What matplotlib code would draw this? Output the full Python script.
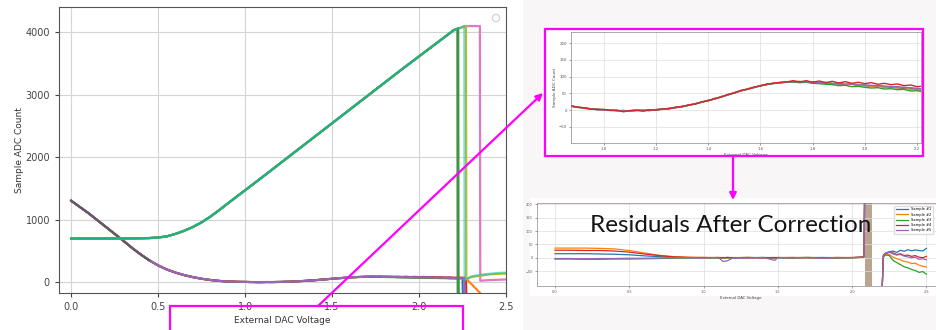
import matplotlib
matplotlib.use('Agg')
import matplotlib.pyplot as plt
from matplotlib.patches import Rectangle, FancyArrowPatch
import numpy as np

W, H = 936, 330

# ---------------- main chart data ----------------
# rising ramp shared by the "high" channels (V, ADC count)
ramp_v = [0.0, 0.1, 0.2, 0.3, 0.4, 0.45, 0.5, 0.55, 0.6, 0.65, 0.7, 0.75, 0.8, 0.85, 0.9,
          0.95, 1.0, 1.1, 1.2, 1.3, 1.4, 1.5, 1.6, 1.7, 1.8, 1.9, 2.0, 2.1, 2.2]
ramp_adc = [695, 695, 696, 697, 699, 703, 712, 730, 770, 820, 880, 955, 1045, 1148, 1256,
            1362, 1468, 1680, 1895, 2110, 2325, 2540, 2755, 2970, 3185, 3400, 3610, 3820, 4030]

# saturation and drop of each high channel
pink_tail_v = [2.265, 2.35, 2.352, 2.4, 2.45, 2.5]
pink_tail = [4095, 4095, 20, 30, 35, 40]
gray_tail_v = [2.22, 2.222]
gray_tail = [4040, -200]
olive_tail_v = [2.27, 2.272, 2.3, 2.35, 2.4, 2.45, 2.5]
olive_tail = [4095, 40, 80, 100, 120, 130, 135]
green_hi_tail_v = [2.225, 2.227]
green_hi_tail = [4060, -200]
cyan_tail_v = [2.26, 2.262, 2.3, 2.35, 2.4, 2.45, 2.5]
cyan_tail = [4095, 30, 90, 115, 130, 145, 150]

# falling curve shared by the "low" channels, 0 - 0.85 V
head_v = [0.0, 0.05, 0.1, 0.15, 0.2, 0.25, 0.3, 0.35, 0.4, 0.45, 0.5, 0.55, 0.6,
          0.65, 0.7, 0.75, 0.8, 0.85]
head_adc = [1300, 1200, 1100, 990, 880, 770, 660, 545, 440, 345, 265, 200, 150,
            110, 78, 52, 32, 18]

# low channels between 0.875 V and 2.225 V (also shown in the zoom panel)
zoom_v = np.linspace(0.875, 2.225, 55)
zoom_blue = [11, 9, 7, 4, 1, 2, -1, -1, -3, -2, 0, -1, -1, 2, 3, 4, 8, 10, 15, 18,
             24, 29, 33, 40, 45, 52, 57, 63, 67, 73, 76, 80, 81, 84, 84, 85, 83, 84, 81, 81,
             79, 78, 76, 77, 74, 73, 71, 72, 69, 68, 67, 64, 65, 61, 60]
zoom_orange = [11, 10, 5, 4, 3, 0, 1, -2, -1, -3, -1, 0, -2, 2, 2, 6, 7, 12, 14, 20,
               23, 30, 33, 41, 45, 53, 57, 64, 67, 74, 76, 81, 81, 85, 84, 86, 83, 85, 81, 83,
               78, 80, 76, 78, 73, 75, 71, 73, 68, 70, 66, 67, 62, 63, 58]
zoom_green = [12, 9, 6, 3, 3, 1, 0, -2, -1, -3, -1, -2, 1, 0, 3, 5, 7, 11, 14, 19,
              24, 28, 34, 39, 46, 51, 58, 62, 68, 72, 77, 79, 82, 83, 84, 82, 83, 80, 79, 77,
              76, 73, 74, 70, 71, 68, 66, 67, 63, 64, 61, 62, 57, 58, 54]
zoom_red = [13, 8, 7, 3, 2, 2, -1, 0, -5, -1, 0, -3, 1, 0, 4, 4, 9, 10, 16, 18,
            25, 28, 35, 39, 47, 51, 59, 62, 69, 72, 78, 80, 83, 84, 88, 84, 88, 83, 87, 82,
            86, 81, 85, 80, 83, 79, 82, 77, 80, 76, 78, 73, 75, 70, 72]
zoom_purple = [12, 9, 6, 4, 2, 1, 0, -1, -2, -2, -1, 0, 0, 1, 3, 5, 8, 11, 15, 19,
               24, 29, 34, 40, 46, 52, 58, 63, 68, 73, 77, 80, 82, 84, 85, 85, 84, 84, 82, 82,
               80, 80, 78, 78, 76, 75, 74, 73, 72, 70, 70, 68, 67, 65, 63]

# drop of each low channel after 2.225 V
blue_tail_v = [2.25, 2.252]
blue_tail = [60, -200]
orange_tail_v = [2.27, 2.36]
orange_tail = [55, -200]
green_tail_v = [2.227]
green_tail = [-200]
red_tail_v = [2.27, 2.272]
red_tail = [68, -200]
purple_tail_v = [2.26, 2.262]
purple_tail = [62, -200]

# ---------------- residual chart data ----------------
res_v = [0.0, 0.1, 0.2, 0.3, 0.4, 0.5, 0.6, 0.7, 0.8, 0.9, 1.0, 1.1, 1.13, 1.16,
         1.2, 1.3, 1.4, 1.48, 1.5, 1.6, 1.7, 1.8, 1.9, 2.0, 2.05, 2.08, 2.085]
res_blue = [15, 15, 15, 14, 13, 11, 7, 4, 2, 0, 1, 0, 0, 1, -1, 0, 1, 0, 0, -1, 0, 1, 0, 0, 1, 3, 300]
res_orange = [36, 36, 36, 35, 33, 27, 18, 9, 4, 2, 1, 0, 1, 0, 1, -1, 0, 1, 0, 1, -1, 0, 1, 0, 2, 5, 300]
res_green = [-5, -5, -6, -6, -5, -5, -4, -3, -2, -1, 0, -1, 0, -1, 0, 1, 0, -1, 0, 0, 1, 0, -1, 0, 1, 2, 300]
res_red = [28, 28, 27, 27, 25, 21, 14, 8, 3, 1, 0, 1, -1, 1, 0, 1, -1, 0, 1, 0, 1, -1, 0, 1, 2, 4, 300]
res_purple = [-3, -3, -4, -3, -3, -2, -2, -1, 0, 0, -1, 1, -14, -12, 0, -1, 1, -10, 0, 1, 0, -1, 1, 0, 1, 3, 300]

res_tail_v = [2.2, 2.21, 2.225, 2.25, 2.275, 2.3, 2.325, 2.35, 2.375, 2.4, 2.425, 2.45, 2.475, 2.5]
res_tail_blue = [-150, 10, 18, 22, 25, 20, 28, 24, 30, 26, 29, 27, 25, 35]
res_tail_orange = [-150, 6, 14, 12, 2, -4, -8, -14, -16, -22, -20, -28, -32, -35]
res_tail_green = [-150, 2, 10, 8, -10, -18, -26, -34, -38, -44, -48, -55, -52, -62]
res_tail_red = [-150, 8, 15, 20, 18, 12, 15, 8, 10, 5, 8, 2, 0, 5]
res_tail_purple = [-150, 5, 16, 22, 14, 10, 12, 6, 3, 0, 2, -6, -4, -8]
sample_labels = ['Sample #1', 'Sample #2', 'Sample #3', 'Sample #4', 'Sample #5']

# --------------------------------------------------
def fx(x):
    return x / W

def fy(y):
    return 1 - y / H

def box(x0, y0, x1, y1):
    return [fx(x0), fy(y1), (x1 - x0) / W, (y1 - y0) / H]


fig = plt.figure(figsize=(W / 100, H / 100), dpi=100, facecolor='#f8f6f7')

# pasted screenshot backgrounds
for b in [(0, 0, 523, 330), (530, 198, 936, 296), (546, 30, 922, 155)]:
    fig.patches.append(Rectangle((fx(b[0]), fy(b[3])), (b[2] - b[0]) / W, (b[3] - b[1]) / H,
                                 transform=fig.transFigure, facecolor='white',
                                 edgecolor='none', zorder=-5))

# ---------------- main chart ----------------
ax = fig.add_axes(box(59, 7, 506, 293))
low = [(zoom_blue, blue_tail_v, blue_tail, '#1f77b4'),
       (zoom_orange, orange_tail_v, orange_tail, '#ff7f0e'),
       (zoom_green, green_tail_v, green_tail, '#2ca02c'),
       (zoom_red, red_tail_v, red_tail, '#d62728'),
       (zoom_purple, purple_tail_v, purple_tail, '#9467bd')]
for vals, tv, ta, c in low:
    xs = list(head_v) + list(zoom_v) + tv
    ys = list(head_adc) + vals + ta
    ax.plot(xs, ys, color=c, lw=1.5)
# darker gray trace over the start of the falling curve
ax.plot(head_v[:10], head_adc[:10], color='#5f5a68', lw=1.5)

high = [(pink_tail_v, pink_tail, '#e377c2', 1.0),
        (gray_tail_v, gray_tail, '#7f7f7f', 1.0),
        (olive_tail_v, olive_tail, '#bcbd22', 1.0),
        (green_hi_tail_v, green_hi_tail, '#2ca02c', 1.0),
        (cyan_tail_v, cyan_tail, '#17becf', 0.55)]
for tv, ta, c, a in high:
    ax.plot(list(ramp_v) + tv, list(ramp_adc) + ta, color=c, lw=1.6, alpha=a)

ax.set_xlim(-0.07, 2.5)
ax.set_ylim(-176, 4400)
ax.set_xticks([0.0, 0.5, 1.0, 1.5, 2.0, 2.5])
ax.set_yticks([0, 1000, 2000, 3000, 4000])
ax.tick_params(labelsize=7, colors='#444', length=3)
ax.grid(color='#d4d4d4', lw=0.8)
for s in ax.spines.values():
    s.set_color('#555')
ax.set_xlabel('External DAC Voltage', fontsize=6.5, color='#333', labelpad=3)
ax.set_ylabel('Sample ADC Count', fontsize=6.5, color='#333', labelpad=1)
ax.legend(handles=[], loc='upper right', borderpad=0.25)

# ---------------- zoom panel ----------------
axz = fig.add_axes(box(571, 32, 921, 143))
for vals, c in [(zoom_blue, '#1f77b4'), (zoom_orange, '#ff7f0e'), (zoom_green, '#2ca02c'),
                (zoom_purple, '#9467bd'), (zoom_red, '#d62728')]:
    axz.plot(zoom_v, vals, color=c, lw=1.0)
axz.set_xlim(0.874, 2.215)
axz.set_ylim(-98, 233)
axz.set_xticks([1.0, 1.2, 1.4, 1.6, 1.8, 2.0, 2.2])
axz.set_yticks([-50, 0, 50, 100, 150, 200])
axz.tick_params(labelsize=2.8, colors='#555', length=1.5, width=0.4, pad=1.5)
axz.grid(color='#dddddd', lw=0.5)
for s in axz.spines.values():
    s.set_color('#888')
    s.set_linewidth(0.5)
axz.set_xlabel('External DAC Voltage', fontsize=3, color='#444', labelpad=1)
axz.set_ylabel('Sample ADC Count', fontsize=3, color='#444', labelpad=1.5)

# ---------------- residual panel ----------------
axr = fig.add_axes(box(537, 203, 945, 286))
res = [(res_blue, res_tail_blue, '#1f77b4'),
       (res_orange, res_tail_orange, '#ff7f0e'),
       (res_green, res_tail_green, '#2ca02c'),
       (res_red, res_tail_red, '#d62728'),
       (res_purple, res_tail_purple, '#9467bd')]
for (vals, tvals, c), lab in zip(res, sample_labels):
    axr.plot(res_v, vals, color=c, lw=0.9, label=lab)
    axr.plot(res_tail_v, tvals, color=c, lw=0.9)
axr.axvspan(2.088, 2.132, color='#b9a58e', lw=0)
axr.set_xlim(-0.121, 2.625)
axr.set_ylim(-106, 205)
axr.set_xticks([0.0, 0.5, 1.0, 1.5, 2.0, 2.5])
axr.set_yticks([-50, 0, 50, 100, 150, 200])
axr.tick_params(labelsize=2.5, colors='#555', length=1.5, width=0.4, pad=1.5)
axr.grid(color='#dddddd', lw=0.5)
for s in axr.spines.values():
    s.set_color('#888')
    s.set_linewidth(0.5)
axr.set_xlabel('External DAC Voltage', fontsize=2.8, color='#444', labelpad=1)
axr.legend(loc='upper right', bbox_to_anchor=(fx(935), fy(204)),
           bbox_transform=fig.transFigure, fontsize=2.6, frameon=True, handlelength=3.5,
           borderpad=0.4, labelspacing=0.35, edgecolor='#dddddd', framealpha=1)

fig.text(fx(731), fy(226), 'Residuals After Correction', fontsize=17.5,
         family=['Lato', 'DejaVu Sans'], color='#151515', ha='center', va='center')

# ---------------- annotations ----------------
mag = '#ff00ff'
for x0, y0, x1, y1 in [(545, 29, 923, 156), (170, 306, 463, 340)]:
    fig.patches.append(Rectangle((fx(x0), fy(y1)), (x1 - x0) / W, (y1 - y0) / H,
                                 transform=fig.transFigure, fill=False,
                                 edgecolor=mag, lw=1.6, zorder=5))
for p0, p1 in [((318, 306), (543, 93)), ((733, 157), (733, 200))]:
    fig.patches.append(FancyArrowPatch((fx(p0[0]), fy(p0[1])), (fx(p1[0]), fy(p1[1])),
                                       transform=fig.transFigure, arrowstyle='-|>',
                                       mutation_scale=10, color=mag, lw=1.6,
                                       shrinkA=0, shrinkB=0, zorder=6))

fig.savefig('out.png', dpi=100, facecolor=fig.get_facecolor())
